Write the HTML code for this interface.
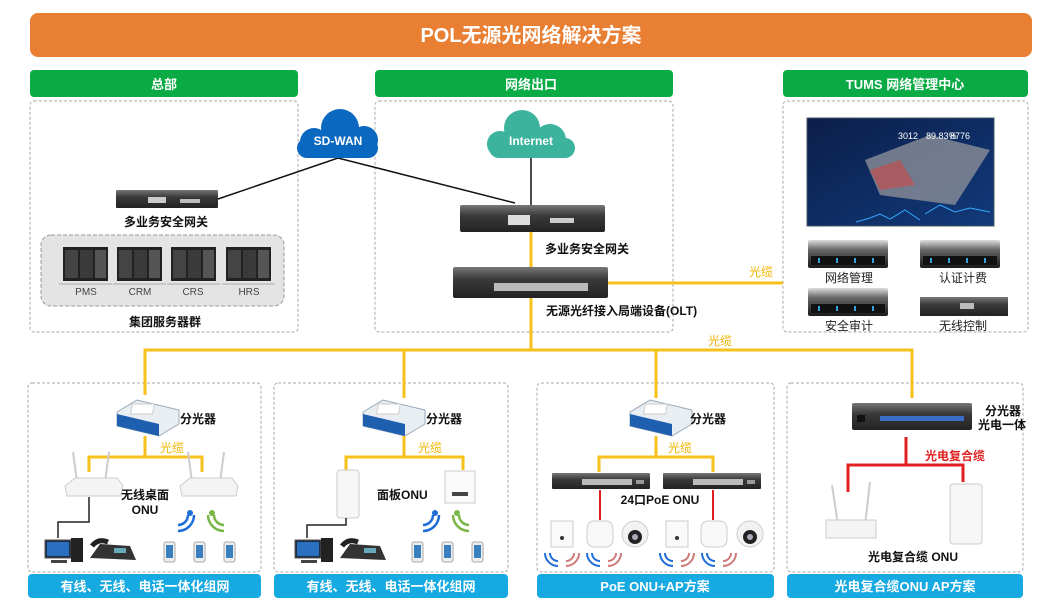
<!DOCTYPE html>
<html><head><meta charset="utf-8"><style>
body{margin:0;background:#fff;width:1063px;height:609px;overflow:hidden;font-family:"Liberation Sans","Noto Sans CJK SC",sans-serif}
svg text{font-family:"Liberation Sans","Noto Sans CJK SC",sans-serif}
</style></head><body>
<svg width="1063" height="609" viewBox="0 0 1063 609" xmlns="http://www.w3.org/2000/svg">
<defs>
<linearGradient id="dev" x1="0" y1="0" x2="0" y2="1"><stop offset="0" stop-color="#777"/><stop offset="0.4" stop-color="#3a3a3a"/><stop offset="1" stop-color="#222"/></linearGradient>
<linearGradient id="srv" x1="0" y1="0" x2="0" y2="1"><stop offset="0" stop-color="#ddd"/><stop offset="0.35" stop-color="#666"/><stop offset="1" stop-color="#1a1a1a"/></linearGradient>
<linearGradient id="scr" x1="0" y1="0" x2="1" y2="1"><stop offset="0" stop-color="#0b1e4a"/><stop offset="1" stop-color="#123a7a"/></linearGradient>
<g id="splitter"><polygon points="0,12 20,0 62,10 62,24 42,36 0,26" fill="#e8eef2" stroke="#9ab" stroke-width="1"/><polygon points="0,14 42,24 42,36 0,26" fill="#1e5fb0"/><rect x="16" y="4" width="22" height="10" fill="#fff" stroke="#ccc" transform="skewX(-10)"/></g>
<g id="router"><line x1="8" y1="0" x2="12" y2="30" stroke="#ccc" stroke-width="2"/><line x1="44" y1="0" x2="40" y2="30" stroke="#ccc" stroke-width="2"/><polygon points="0,34 10,26 52,26 58,34 56,44 2,44" fill="#f4f4f4" stroke="#ccc"/></g>
<g id="phone"><rect x="0" y="0" width="11" height="20" rx="2" fill="#eee" stroke="#aaa"/><rect x="2" y="3" width="7" height="13" fill="#3a7fc0"/></g>
<g id="wifiB"><path d="M10,0 a10,10 0 0 1 -10,10" fill="none" stroke="#1e6ed8" stroke-width="2.5"/><path d="M16,0 a16,16 0 0 1 -16,16" fill="none" stroke="#1e6ed8" stroke-width="2.5"/><circle cx="12" cy="-2" r="3" fill="#1e6ed8"/></g>
<g id="wifiG"><path d="M0,0 a10,10 0 0 0 10,10" fill="none" stroke="#7ab648" stroke-width="2.5"/><path d="M-6,0 a16,16 0 0 0 16,16" fill="none" stroke="#7ab648" stroke-width="2.5"/><circle cx="-2" cy="-2" r="3" fill="#7ab648"/></g>
<g id="pc"><rect x="0" y="0" width="26" height="18" fill="#1c2c44" stroke="#555"/><rect x="2" y="2" width="22" height="14" fill="#2a6fc0"/><rect x="26" y="-2" width="12" height="24" fill="#222"/><rect x="6" y="20" width="16" height="3" fill="#444"/></g>
<g id="tel"><path d="M0,18 L10,4 L40,6 L46,20 Z" fill="#333"/><path d="M2,6 q6,-8 16,-4" stroke="#222" stroke-width="5" fill="none"/><rect x="24" y="8" width="12" height="5" fill="#6ab"/></g>
<g id="rack"><rect x="0" y="0" width="80" height="28" fill="url(#srv)" rx="2"/><rect x="3" y="16" width="74" height="9" fill="#111"/><g fill="#3aa0d8"><rect x="10" y="18" width="2" height="5"/><rect x="28" y="18" width="2" height="5"/><rect x="46" y="18" width="2" height="5"/><rect x="64" y="18" width="2" height="5"/></g></g>
<g id="tower"><rect x="0" y="0" width="45" height="34" fill="#222"/><rect x="2" y="3" width="13" height="28" fill="#444"/><rect x="17" y="3" width="13" height="28" fill="#3a3a3a"/><rect x="32" y="3" width="11" height="28" fill="#555"/><line x1="-4" y1="37" x2="49" y2="37" stroke="#aaa"/></g>
<g id="sw24"><rect x="0" y="0" width="98" height="16" fill="url(#dev)" rx="1"/><g fill="#bbb"><rect x="30" y="6" width="50" height="6"/></g><rect x="84" y="7" width="8" height="4" fill="#999"/></g>
<g id="pAp"><rect x="0" y="0" width="22" height="26" fill="#fafafa" stroke="#ccc"/><circle cx="11" cy="17" r="2" fill="#333"/></g>
<g id="cAp"><rect x="0" y="0" width="26" height="26" rx="7" fill="#f8f8f8" stroke="#ccc"/></g>
<g id="cam"><circle cx="13" cy="13" r="13" fill="#f2f2f2" stroke="#ccc"/><circle cx="13" cy="16" r="7" fill="#222"/><circle cx="13" cy="16" r="3" fill="#aab"/></g>
<g id="wifiR"><path d="M0,0 a8,8 0 0 0 8,8" fill="none" stroke="#1e6ed8" stroke-width="2"/><path d="M-5,0 a13,13 0 0 0 13,13" fill="none" stroke="#1e6ed8" stroke-width="2"/><path d="M24,0 a8,8 0 0 1 -8,8" fill="none" stroke="#d07a7a" stroke-width="2"/><path d="M29,0 a13,13 0 0 1 -13,13" fill="none" stroke="#d07a7a" stroke-width="2"/></g>
</defs>

<rect x="30" y="13" width="1002" height="44" rx="8" fill="#e97f33"/>
<text x="531" y="42" text-anchor="middle" fill="#fff" font-size="20" font-weight="bold">POL无源光网络解决方案</text>

<g font-size="13" font-weight="bold" fill="#fff" text-anchor="middle">
<rect x="30" y="70" width="268" height="27" rx="4" fill="#0aab45"/><text x="164" y="89" fill="#fff">总部</text>
<rect x="375" y="70" width="298" height="27" rx="4" fill="#0aab45"/><text x="531" y="89" fill="#fff">网络出口</text>
<rect x="783" y="70" width="245" height="27" rx="4" fill="#0aab45"/><text x="905" y="89" fill="#fff">TUMS 网络管理中心</text>
</g>

<g fill="none" stroke="#aaa" stroke-dasharray="3,2" stroke-width="1">
<rect x="30" y="101" width="268" height="231" rx="4"/>
<rect x="375" y="101" width="298" height="231" rx="4"/>
<rect x="783" y="101" width="245" height="231" rx="4"/>
<rect x="28" y="383" width="233" height="189" rx="4"/>
<rect x="274" y="383" width="234" height="189" rx="4"/>
<rect x="537" y="383" width="237" height="189" rx="4"/>
<rect x="787" y="383" width="236" height="189" rx="4"/>
</g>

<rect x="41" y="235" width="243" height="71" rx="10" fill="#e4e4e4" stroke="#999" stroke-dasharray="4,2"/>
<use href="#tower" x="63" y="247"/><use href="#tower" x="117" y="247"/><use href="#tower" x="171" y="247"/><use href="#tower" x="226" y="247"/>
<g font-size="10" fill="#444" text-anchor="middle"><text x="86" y="295">PMS</text><text x="140" y="295">CRM</text><text x="193" y="295">CRS</text><text x="249" y="295">HRS</text></g>
<text x="165" y="326" font-size="12" font-weight="bold" text-anchor="middle" fill="#111">集团服务器群</text>

<rect x="116" y="190" width="102" height="18" fill="url(#dev)" rx="1"/><rect x="148" y="197" width="18" height="6" fill="#ccc"/><rect x="180" y="199" width="20" height="4" fill="#bbb"/>
<text x="166" y="226" font-size="12" font-weight="bold" text-anchor="middle" fill="#111">多业务安全网关</text>

<polyline points="218,199 338,158 515,203" fill="none" stroke="#111" stroke-width="1.5"/>
<line x1="531" y1="158" x2="531" y2="205" stroke="#111" stroke-width="1.5"/>

<g fill="#0a68c0"><circle cx="340" cy="128" r="19"/><circle cx="314" cy="142" r="14"/><circle cx="364" cy="140" r="14"/><rect x="297" y="138" width="81" height="20" rx="10"/></g>
<text x="338" y="145" font-size="12" font-weight="bold" fill="#fff" text-anchor="middle">SD-WAN</text>
<g fill="#3cb39c"><circle cx="522" cy="128" r="18"/><circle cx="500" cy="144" r="13"/><circle cx="550" cy="140" r="16"/><rect x="489" y="138" width="86" height="20" rx="10"/></g>
<text x="531" y="145" font-size="12" font-weight="bold" fill="#fff" text-anchor="middle">Internet</text>

<g stroke="#f6c11a" stroke-width="3" fill="none">
<line x1="531" y1="232" x2="531" y2="267"/>
<polyline points="531,298 531,350"/>
<line x1="606" y1="283" x2="783" y2="283"/>
<polyline points="145,395 145,350 912,350 912,398"/>
<line x1="404" y1="350" x2="404" y2="398"/>
<line x1="656" y1="350" x2="656" y2="398"/>
</g>
<text x="761" y="276" font-size="12" fill="#f0b400" text-anchor="middle">光缆</text>
<text x="720" y="345" font-size="12" fill="#f0b400" text-anchor="middle">光缆</text>

<rect x="460" y="205" width="145" height="27" fill="url(#dev)" rx="2"/><rect x="508" y="215" width="22" height="10" fill="#ddd"/><rect x="550" y="218" width="24" height="5" fill="#ccc"/>
<text x="545" y="253" font-size="12" font-weight="bold" fill="#111">多业务安全网关</text>
<rect x="453" y="267" width="155" height="31" fill="url(#dev)" rx="2"/><rect x="494" y="283" width="94" height="8" fill="#bbb"/>
<text x="546" y="315" font-size="12" font-weight="bold" fill="#111">无源光纤接入局端设备(OLT)</text>

<rect x="807" y="118" width="187" height="108" fill="url(#scr)" stroke="#456"/>
<polygon points="865,160 930,135 990,150 955,205 880,195" fill="#8b8f99" opacity="0.8"/>
<polygon points="870,170 900,160 915,185 880,190" fill="#c05050" opacity="0.7"/>
<text x="898" y="139" font-size="9" fill="#fff">3012</text><text x="926" y="139" font-size="9" fill="#fff">89.83%</text><text x="950" y="139" font-size="9" fill="#fff">8776</text>
<polyline points="856,222 870,218 880,214 890,219 905,210 920,220" stroke="#3af" fill="none"/>
<polyline points="925,214 940,205 955,212 970,208 990,212" stroke="#3af" fill="none"/>
<use href="#rack" x="808" y="240"/><use href="#rack" x="920" y="240"/><use href="#rack" x="808" y="288"/>
<rect x="920" y="297" width="88" height="19" fill="url(#dev)"/><rect x="960" y="303" width="14" height="6" fill="#bbb"/>
<g font-size="12" fill="#222" text-anchor="middle"><text x="849" y="282">网络管理</text><text x="963" y="282">认证计费</text><text x="849" y="330">安全审计</text><text x="963" y="330">无线控制</text></g>

<use href="#splitter" x="117" y="400"/>
<text x="180" y="423" font-size="12" font-weight="bold" fill="#111">分光器</text>
<g stroke="#f6c11a" stroke-width="3" fill="none"><line x1="145" y1="436" x2="145" y2="457"/><polyline points="89,472 89,457 202,457 202,472"/></g>
<text x="160" y="452" font-size="12" fill="#f0b400">光缆</text>
<use href="#router" x="65" y="452"/><use href="#router" x="180" y="452"/>
<text x="145" y="499" font-size="12" font-weight="bold" fill="#111" text-anchor="middle">无线桌面</text>
<text x="145" y="514" font-size="12" font-weight="bold" fill="#111" text-anchor="middle">ONU</text>
<polyline points="89,497 89,522 58,522 58,538 M89,522 119,522 119,538" stroke="#222" stroke-width="1.5" fill="none"/>
<use href="#pc" x="45" y="540"/><use href="#tel" x="90" y="540"/>
<use href="#wifiB" x="178" y="515"/><use href="#wifiG" x="214" y="515"/>
<use href="#phone" x="164" y="542"/><use href="#phone" x="194" y="542"/><use href="#phone" x="224" y="542"/>

<use href="#splitter" x="363" y="400"/>
<text x="426" y="423" font-size="12" font-weight="bold" fill="#111">分光器</text>
<g stroke="#f6c11a" stroke-width="3" fill="none"><line x1="404" y1="436" x2="404" y2="457"/><polyline points="346,470 346,457 463,457 463,470"/></g>
<text x="418" y="452" font-size="12" fill="#f0b400">光缆</text>
<rect x="337" y="470" width="22" height="48" rx="3" fill="#f6f6f6" stroke="#ccc"/>
<rect x="445" y="471" width="30" height="32" fill="#fafafa" stroke="#ccc"/><rect x="452" y="492" width="16" height="4" fill="#444"/>
<text x="377" y="499" font-size="12" font-weight="bold" fill="#111">面板ONU</text>
<polyline points="346,518 346,525 307,525 307,538 M346,525 368,525 368,538" stroke="#222" stroke-width="1.5" fill="none"/>
<use href="#pc" x="295" y="540"/><use href="#tel" x="340" y="540"/>
<use href="#wifiB" x="423" y="515"/><use href="#wifiG" x="459" y="515"/>
<use href="#phone" x="412" y="542"/><use href="#phone" x="442" y="542"/><use href="#phone" x="472" y="542"/>

<use href="#splitter" x="630" y="400"/>
<text x="690" y="423" font-size="12" font-weight="bold" fill="#111">分光器</text>
<g stroke="#f6c11a" stroke-width="3" fill="none"><line x1="656" y1="436" x2="656" y2="457"/><polyline points="599,472 599,457 713,457 713,472"/></g>
<text x="668" y="452" font-size="12" fill="#f0b400">光缆</text>
<use href="#sw24" x="552" y="473"/><use href="#sw24" x="663" y="473"/>
<text x="660" y="504" font-size="12" font-weight="bold" fill="#111" text-anchor="middle">24口PoE ONU</text>
<g stroke="#e02020" stroke-width="2" fill="none">
<polyline points="600,490 600,520 M562,522 562,508 637,508 637,522"/>
<polyline points="713,490 713,520 M676,522 676,508 750,508 750,522"/>
</g>
<use href="#pAp" x="551" y="521"/><use href="#cAp" x="587" y="521"/><use href="#cam" x="622" y="521"/>
<use href="#pAp" x="666" y="521"/><use href="#cAp" x="701" y="521"/><use href="#cam" x="737" y="521"/>
<use href="#wifiR" x="550" y="553"/><use href="#wifiR" x="592" y="553"/><use href="#wifiR" x="665" y="553"/><use href="#wifiR" x="707" y="553"/>

<rect x="852" y="403" width="120" height="27" fill="url(#dev)" rx="2"/><rect x="880" y="416" width="84" height="5" fill="#3a6cc8"/><rect x="857" y="415" width="8" height="7" fill="#111"/>
<text x="985" y="415" font-size="12" font-weight="bold" fill="#111">分光器</text>
<text x="978" y="429" font-size="12" font-weight="bold" fill="#111">光电一体</text>
<g stroke="#e02020" stroke-width="3" fill="none"><line x1="906" y1="437" x2="906" y2="465"/><polyline points="848,492 848,465 963,465 963,482"/></g>
<text x="925" y="460" font-size="12" font-weight="bold" fill="#e02020">光电复合缆</text>
<line x1="832" y1="485" x2="838" y2="525" stroke="#ccc" stroke-width="2"/><line x1="870" y1="482" x2="865" y2="525" stroke="#ccc" stroke-width="2"/>
<rect x="826" y="520" width="50" height="18" fill="#f4f4f4" stroke="#ccc"/>
<rect x="950" y="484" width="32" height="60" rx="3" fill="#f6f6f6" stroke="#ccc"/>
<text x="913" y="561" font-size="12" font-weight="bold" fill="#111" text-anchor="middle">光电复合缆 ONU</text>

<g font-size="13" font-weight="bold" text-anchor="middle" fill="#fff">
<rect x="28" y="574" width="233" height="24" rx="4" fill="#17a9e1"/><text x="145" y="591" fill="#fff">有线、无线、电话一体化组网</text>
<rect x="274" y="574" width="234" height="24" rx="4" fill="#17a9e1"/><text x="391" y="591" fill="#fff">有线、无线、电话一体化组网</text>
<rect x="537" y="574" width="237" height="24" rx="4" fill="#17a9e1"/><text x="655" y="591" fill="#fff">PoE ONU+AP方案</text>
<rect x="787" y="574" width="236" height="24" rx="4" fill="#17a9e1"/><text x="905" y="591" fill="#fff">光电复合缆ONU AP方案</text>
</g>
</svg>
</body></html>
